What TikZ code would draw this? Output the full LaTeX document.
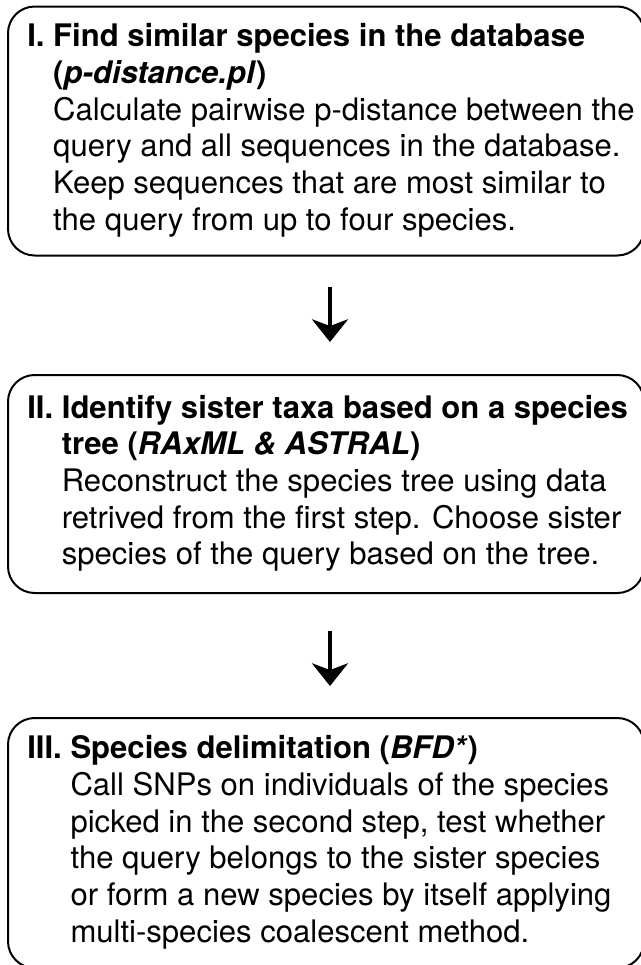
\documentclass[tikz,border=0pt]{standalone}
\usepackage{fontspec}
\setmainfont{TeX Gyre Heros}
\usepackage{tikz}
\usetikzlibrary{arrows.meta}

% label in front, lines hang after it
\newcommand{\steplines}[2]{%
  \makebox[448pt][l]{\begin{tabular}{@{}l@{\ }l@{}}\textbf{#1} & #2\end{tabular}}}

\begin{document}
\begin{tikzpicture}[x=0.75pt,y=-0.75pt,
    stepbox/.style={draw, line width=1.5pt, rounded corners=20pt,
      inner xsep=14pt, inner ysep=0pt, minimum width=477pt,
      font=\fontsize{23.3}{27.5}\selectfont},
    flow/.style={line width=2.6pt, -{Stealth[length=17pt,width=27pt,inset=5pt]}}]

	\useasboundingbox (0,0) rectangle (641,965);

	% step I
	\node[stepbox, minimum height=186.75pt] (find) at (326,131) {\steplines{I.}{%
		\textbf{Find similar species in the database}\\
		& \textbf{(\textit{p-distance.pl})}\\
		& Calculate pairwise p-distance between the\\
		& query and all sequences in the database.\\
		& Keep sequences that are most similar to\\
		& the query from up to four species.}};

	% step II
	\node[stepbox, minimum height=163.5pt] (sister) at (326,484) {\steplines{II.}{%
		\textbf{Identify sister taxa based on a species}\\
		& \textbf{tree (\textit{RAxML \& ASTRAL})}\\
		& Reconstruct the species tree using data\\
		& retrived from the first step. Choose sister\\
		& species of the query based on the tree.}};

	% step III
	\node[stepbox, minimum height=187.5pt] (delim) at (326,843) {\steplines{III.}{%
		\textbf{Species delimitation (\textit{BFD*})}\\
		& Call SNPs on individuals of the species\\
		& picked in the second step, test whether\\
		& the query belongs to the sister species\\
		& or form a new species by itself applying\\
		& multi-species coalescent method.}};

	% arrows between steps
	\draw[flow, shorten <=22.5pt, shorten >=24pt] ([xshift=3pt]find.south) -- ([xshift=3pt]sister.north);
	\draw[flow, shorten <=27.75pt, shorten >=23.25pt] ([xshift=3pt]sister.south) -- ([xshift=3pt]delim.north);

\end{tikzpicture}
\end{document}
